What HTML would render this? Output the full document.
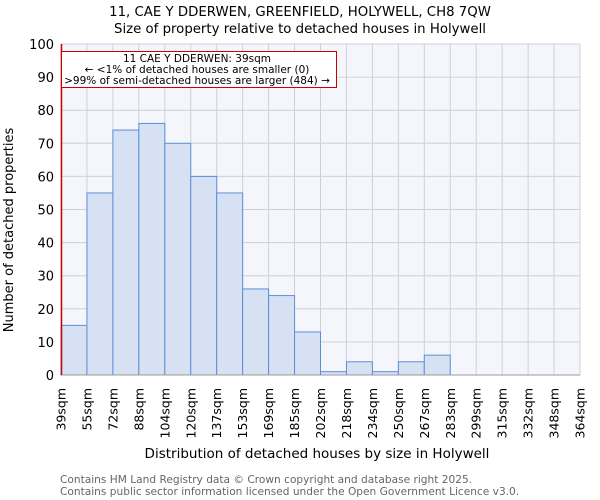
<!DOCTYPE html>
<html><head><meta charset="utf-8"><style>
body{margin:0;background:#fff;}
svg{display:block;font-family:"DejaVu Sans","Liberation Sans",sans-serif;}
</style></head><body>
<svg id="chart" width="600" height="500">
<text x="300" y="16" text-anchor="middle" font-size="13.3">11, CAE Y DDERWEN, GREENFIELD, HOLYWELL, CH8 7QW</text>
<text x="300" y="33" text-anchor="middle" font-size="13.3">Size of property relative to detached houses in Holywell</text>
<rect x="61" y="44" width="519" height="331" fill="#f4f6fc"/>
<g id="grid"></g><g id="bars"></g><g id="axes"></g>
<text transform="translate(13,230) rotate(-90)" text-anchor="middle" font-size="13">Number of detached properties</text>
<text x="317" y="458" text-anchor="middle" font-size="13.5">Distribution of detached houses by size in Holywell</text>
<text x="60" y="483" font-size="10.6" fill="#666">Contains HM Land Registry data © Crown copyright and database right 2025.</text>
<text x="60" y="495" font-size="10.6" fill="#666">Contains public sector information licensed under the Open Government Licence v3.0.</text>
<line x1="61.5" y1="44" x2="61.5" y2="375" stroke="#cc0000" stroke-width="1.5"/>
<rect x="61.5" y="51.5" width="275" height="36" fill="#fff" stroke="#cc0000"/>
<text x="197" y="62" text-anchor="middle" font-size="10.5">11 CAE Y DDERWEN: 39sqm</text>
<text x="197" y="73" text-anchor="middle" font-size="10.5">← &lt;1% of detached houses are smaller (0)</text>
<text x="197" y="84" text-anchor="middle" font-size="10.5">&gt;99% of semi-detached houses are larger (484) →</text>
</svg>
<script>
const categories=["39sqm","55sqm","72sqm","88sqm","104sqm","120sqm","137sqm","153sqm","169sqm","185sqm","202sqm","218sqm","234sqm","250sqm","267sqm","283sqm","299sqm","315sqm","332sqm","348sqm","364sqm"];
const counts=[15,55,74,76,70,60,55,26,24,13,1,4,1,4,6,0,0,0,0,0];
const yTicks=[0,10,20,30,40,50,60,70,80,90,100];
const L=61,R=580,T=44,B=375,ns="http://www.w3.org/2000/svg";
const nb=counts.length;
const xs=i=>L+(R-L)*i/nb;
const ys=v=>B-(B-T)*v/100;
function mk(t,a,p){const e=document.createElementNS(ns,t);for(const k in a)e.setAttribute(k,a[k]);p.appendChild(e);return e;}
const g=document.getElementById('grid'),bg=document.getElementById('bars'),ag=document.getElementById('axes');
yTicks.forEach(v=>{
 const l=mk('line',{x1:L,x2:R,y1:ys(v),y2:ys(v),stroke:'#d0d0d4'},g);
 
 
 const t=mk('text',{x:L-7,y:ys(v)+5,'text-anchor':'end','font-size':'13'},ag);
 t.textContent=v;
 
 
});
categories.forEach((c,i)=>{
 const x=xs(i);
 const l=mk('line',{x1:x,x2:x,y1:T,y2:B,stroke:'#d0d0d4'},g);
 
 
 const t=mk('text',{transform:`translate(${x+4.5},388) rotate(-90)`,'text-anchor':'end','font-size':'12.5'},ag);
 t.textContent=c;
 
 
});
counts.forEach((v,i)=>{
 if(v<=0)return;
 const r=mk('rect',{x:xs(i),y:ys(v),width:xs(i+1)-xs(i),height:B-ys(v),fill:'#d6e1f3',stroke:'#5b8fd8','stroke-width':1},bg);
 
 
});
const ax=mk('line',{x1:L,x2:R,y1:B,y2:B,stroke:'#999'},ag);


</script>
</body></html>
